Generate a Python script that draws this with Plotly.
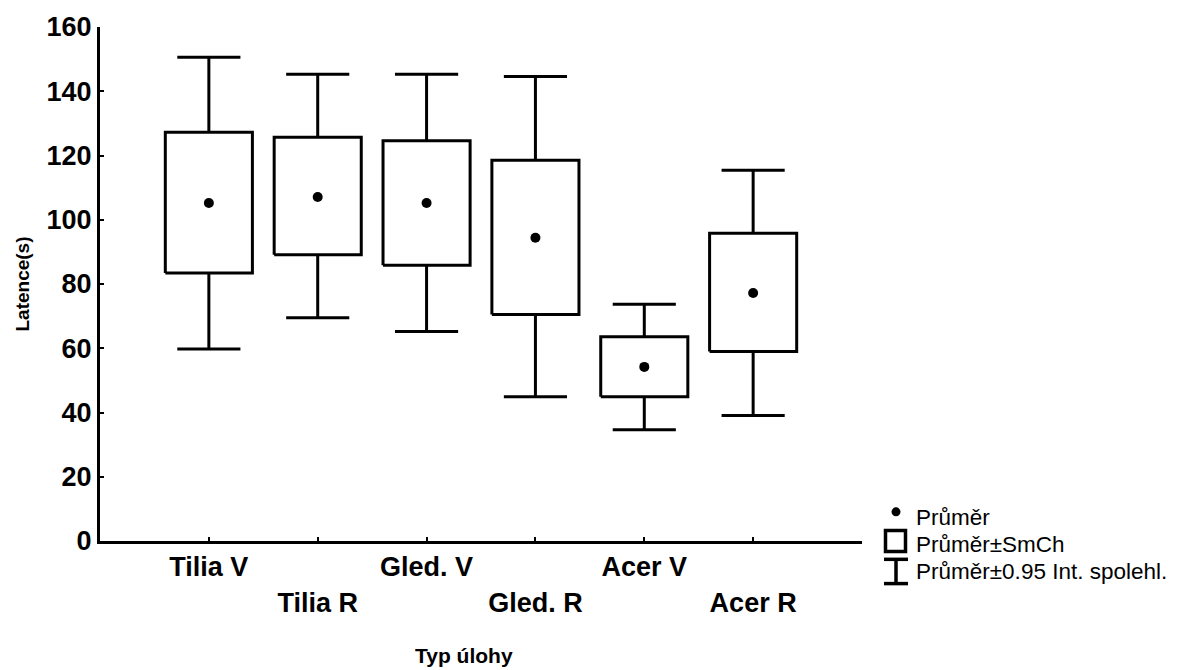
import plotly.graph_objects as go

categories = ["Tilia V", "Tilia R", "Gled. V", "Gled. R", "Acer V", "Acer R"]
mean = [105.2, 107.1, 105.2, 94.4, 54.2, 77.2]
se_low = [83.4, 89.1, 85.8, 70.5, 44.9, 59.0]
se_high = [127.2, 125.7, 124.6, 118.5, 63.6, 95.8]
ci_low = [59.8, 69.5, 65.2, 44.9, 34.6, 39.1]
ci_high = [150.6, 145.3, 145.3, 144.6, 73.7, 115.4]
y_ticks = [0, 20, 40, 60, 80, 100, 120, 140, 160]

BOX_HW = 0.4
CAP_HW = 0.29
LW = 3
FONT = "Liberation Sans, Arial, Helvetica, sans-serif"

pos = list(range(len(categories)))

# whiskers with caps
wx, wy = [], []
for i in pos:
    wx += [i, i, None, i - CAP_HW, i + CAP_HW, None,
           i, i, None, i - CAP_HW, i + CAP_HW, None]
    wy += [se_high[i], ci_high[i], None, ci_high[i], ci_high[i], None,
           se_low[i], ci_low[i], None, ci_low[i], ci_low[i], None]

# boxes
bx, by = [], []
for i in pos:
    bx += [i - BOX_HW, i + BOX_HW, i + BOX_HW, i - BOX_HW, i - BOX_HW, None]
    by += [se_low[i], se_low[i], se_high[i], se_high[i], se_low[i], None]

fig = go.Figure()
fig.add_trace(go.Scatter(x=wx, y=wy, mode="lines",
                         line=dict(color="black", width=LW), hoverinfo="skip",
                         showlegend=False))
fig.add_trace(go.Scatter(x=bx, y=by, mode="lines",
                         line=dict(color="black", width=LW), hoverinfo="skip",
                         showlegend=False))
fig.add_trace(go.Scatter(x=pos, y=mean, mode="markers",
                         marker=dict(color="black", size=10), showlegend=False))

ticktext = [c if k % 2 == 0 else "<br>" + c for k, c in enumerate(categories)]

fig.update_layout(
    width=1184, height=670,
    margin=dict(l=100, r=322, t=22, b=129),
    plot_bgcolor="white", paper_bgcolor="white",
    font=dict(family=FONT, color="black"),
    xaxis=dict(range=[-1, 6], tickvals=pos + [6], ticktext=ticktext + [""],
               showline=True, linecolor="black", linewidth=LW,
               ticks="inside", ticklen=4, tickwidth=2, tickcolor="black",
               showgrid=False, zeroline=False,
               tickfont=dict(size=27, family=FONT, weight="bold")),
    yaxis=dict(range=[0, 160], tickvals=y_ticks,
               showline=True, linecolor="black", linewidth=LW,
               ticks="inside", ticklen=4, tickwidth=2, tickcolor="black",
               showgrid=False, zeroline=False,
               tickfont=dict(size=27, family=FONT, weight="bold"),
               title=dict(text="<b>Latence(s)</b>", font=dict(size=19, family=FONT),
                          standoff=12)),
)

fig.add_annotation(text="<b>Typ úlohy</b>", xref="paper", yref="paper",
                   x=(464 - 100) / 762, y=(541 - 657) / 519,
                   showarrow=False, font=dict(size=21, family=FONT),
                   xanchor="center", yanchor="middle")

# legend (custom, in pixel-derived paper coordinates)
def px(xp):
    return (xp - 100) / 762

def py(yp):
    return (541 - yp) / 519

fig.add_shape(type="circle", xref="paper", yref="paper",
              x0=px(891.5), x1=px(900.5), y0=py(516), y1=py(507),
              fillcolor="black", line=dict(color="black", width=0))
fig.add_shape(type="rect", xref="paper", yref="paper",
              x0=px(885.5), x1=px(905.5), y0=py(551.5), y1=py(530.5),
              line=dict(color="black", width=3.5))
fig.add_shape(type="line", xref="paper", yref="paper",
              x0=px(896), x1=px(896), y0=py(559.5), y1=py(584),
              line=dict(color="black", width=3.5))
fig.add_shape(type="line", xref="paper", yref="paper",
              x0=px(884), x1=px(908), y0=py(559.5), y1=py(559.5),
              line=dict(color="black", width=3.5))
fig.add_shape(type="line", xref="paper", yref="paper",
              x0=px(884), x1=px(908), y0=py(584), y1=py(584),
              line=dict(color="black", width=3.5))

legend_labels = ["Průměr", "Průměr±SmCh", "Průměr±0.95 Int. spolehl."]
legend_y = [517, 545, 572]
for lab, yy in zip(legend_labels, legend_y):
    fig.add_annotation(text=lab, xref="paper", yref="paper",
                       x=px(914), y=py(yy), xanchor="left", yanchor="middle",
                       showarrow=False, font=dict(size=22.5, family=FONT))

fig.write_html("out.html")
